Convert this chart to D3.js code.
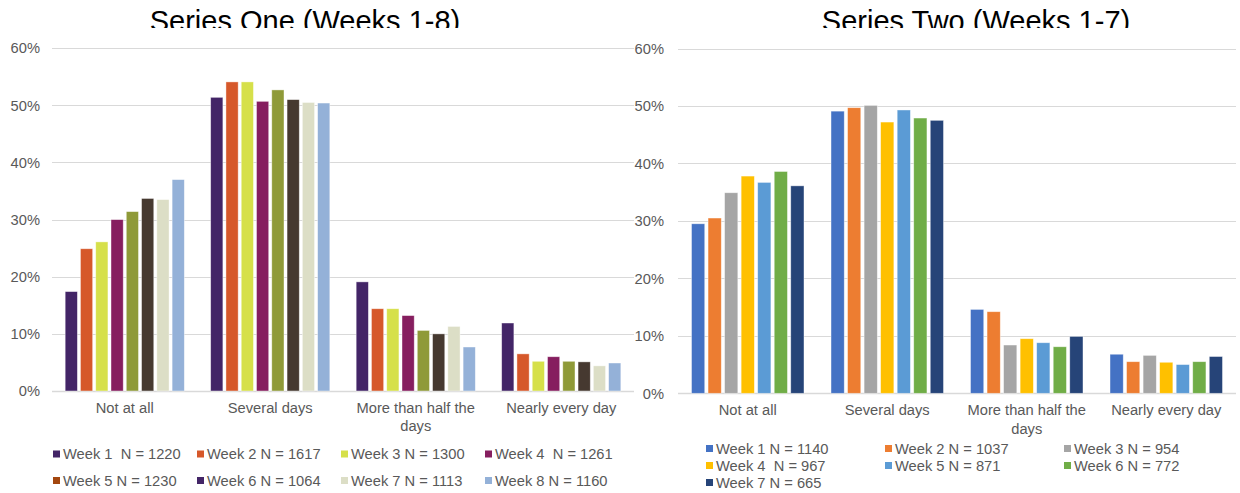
<!DOCTYPE html>
<html>
<head>
<meta charset="utf-8">
<script src="https://cdn.jsdelivr.net/npm/d3@7"></script>
<style>
  html, body { margin: 0; padding: 0; background: #fff; }
  svg { display: block; font-family: "Liberation Sans", Arial, sans-serif; }
  text { white-space: pre; }
</style>
</head>
<body>
<svg id="chart" width="1240" height="493"></svg>
<script>
// Response categories shared by both panels
const categories = ["Not at all", "Several days", "More than half the days", "Nearly every day"];
const yTicks = [0, 10, 20, 30, 40, 50, 60];

// Series One: percentage per category, one array per week
const oneWeeks = ["Week 1", "Week 2", "Week 3", "Week 4", "Week 5", "Week 6", "Week 7", "Week 8"];
const oneWeek1 = [17.4, 51.4, 19.1, 11.9];
const oneWeek2 = [24.9, 54.1, 14.4, 6.5];
const oneWeek3 = [26.1, 54.1, 14.4, 5.2];
const oneWeek4 = [30.0, 50.7, 13.2, 6.0];
const oneWeek5 = [31.4, 52.7, 10.6, 5.2];
const oneWeek6 = [33.7, 51.0, 10.0, 5.1];
const oneWeek7 = [33.5, 50.5, 11.3, 4.4];
const oneWeek8 = [37.0, 50.4, 7.7, 4.9];
const oneLegendLabels = ["Week 1  N = 1220", "Week 2 N = 1617", "Week 3 N = 1300", "Week 4  N = 1261",
                         "Week 5 N = 1230", "Week 6 N = 1064", "Week 7 N = 1113", "Week 8 N = 1160"];
const oneBarColors = ["#432567", "#d6582a", "#d6e04a", "#861e5f", "#8f9a38", "#463930", "#dcdec6", "#94b1d8"];
const oneLegendColors = ["#432567", "#d6582a", "#d6e04a", "#861e5f", "#a3470f", "#432567", "#dcdec6", "#94b1d8"];

// Series Two: percentage per category, one array per week
const twoWeeks = ["Week 1", "Week 2", "Week 3", "Week 4", "Week 5", "Week 6", "Week 7"];
const twoWeek1 = [29.5, 49.1, 14.6, 6.8];
const twoWeek2 = [30.5, 49.7, 14.2, 5.5];
const twoWeek3 = [34.9, 50.1, 8.4, 6.6];
const twoWeek4 = [37.8, 47.2, 9.5, 5.4];
const twoWeek5 = [36.7, 49.3, 8.8, 5.0];
const twoWeek6 = [38.6, 47.9, 8.1, 5.5];
const twoWeek7 = [36.1, 47.5, 9.9, 6.4];
const twoLegendLabels = ["Week 1 N = 1140", "Week 2 N = 1037", "Week 3 N = 954",
                         "Week 4  N = 967", "Week 5 N = 871", "Week 6 N = 772", "Week 7 N = 665"];
const twoColors = ["#4472c4", "#ed7d31", "#a5a5a5", "#ffc000", "#5b9bd5", "#70ad47", "#264478"];

const svg = d3.select("#chart");

// Break a category label onto extra lines when it is wider than the band
function wrapText(sel, width) {
  sel.each(function () {
    const t = d3.select(this);
    const words = t.text().split(/\s+/);
    t.text(null);
    let line = [], lineNo = 0;
    let tspan = t.append("tspan").attr("x", 0).attr("dy", "0.32em");
    for (const w of words) {
      line.push(w);
      tspan.text(line.join(" "));
      if (tspan.node().getComputedTextLength() > width && line.length > 1) {
        line.pop();
        tspan.text(line.join(" "));
        line = [w];
        lineNo++;
        tspan = t.append("tspan").attr("x", 0).attr("dy", "1.26em").text(w);
      }
    }
  });
}

function panel(opts) {
  const g = svg.append("g");
  const y = d3.scaleLinear().domain([0, 60]).range([opts.y0, opts.y60]);
  const x0 = d3.scaleBand().domain(categories).range([opts.xL, opts.xR])
    .paddingInner(opts.padIn).paddingOuter(opts.padOut);
  const x1 = d3.scaleBand().domain(opts.weeks).range([0, x0.bandwidth()])
    .paddingInner(0.2).paddingOuter(0.1);

  // title, clipped along its lower edge
  const clipId = "clip-" + opts.id;
  svg.append("defs").append("clipPath").attr("id", clipId)
    .append("rect").attr("x", opts.titleX - 250).attr("y", 0).attr("width", 500).attr("height", 28);
  g.append("text")
    .attr("clip-path", `url(#${clipId})`)
    .attr("x", opts.titleX).attr("y", 30.5)
    .attr("text-anchor", "middle")
    .attr("font-size", 29).attr("fill", "#000")
    .text(opts.title);

  // gridlines
  g.append("g").selectAll("line").data(yTicks).join("line")
    .attr("x1", opts.xL).attr("x2", opts.xR)
    .attr("y1", d => Math.round(y(d)) + 0.5).attr("y2", d => Math.round(y(d)) + 0.5)
    .attr("stroke", "#d9d9d9").attr("stroke-width", d => d === 0 ? 1.5 : 1);

  // y axis labels
  const yAxis = d3.axisLeft(y).tickValues(yTicks).tickSize(0).tickPadding(0)
    .tickFormat(d => d + "%");
  const ya = g.append("g").attr("transform", `translate(${opts.labelX},0)`).call(yAxis);
  ya.select(".domain").remove();
  ya.selectAll("text").attr("font-size", 14.7).attr("fill", "#595959")
    .attr("font-family", "Liberation Sans, Arial, sans-serif");

  // bars
  const groups = g.append("g").selectAll("g").data(categories).join("g")
    .attr("transform", c => `translate(${x0(c)},0)`);
  groups.selectAll("rect")
    .data((c, ci) => opts.weeks.map((w, wi) => ({ w, wi, v: opts.series[wi][ci] })))
    .join("rect")
    .attr("x", d => x1(d.w))
    .attr("width", x1.bandwidth())
    .attr("y", d => y(d.v))
    .attr("height", d => y(0) - y(d.v))
    .attr("fill", d => opts.barColors[d.wi])
    .attr("stroke", "#ffffff").attr("stroke-opacity", 0.55).attr("stroke-width", 0.75);

  // category labels
  const xAxis = d3.axisBottom(x0).tickSize(0).tickPadding(0);
  const xa = g.append("g").attr("transform", `translate(0,${opts.catY})`).call(xAxis);
  xa.select(".domain").remove();
  xa.selectAll("text").attr("font-size", 14.7).attr("fill", "#595959")
    .attr("font-family", "Liberation Sans, Arial, sans-serif")
    .attr("dy", null).attr("y", 0)
    .call(wrapText, x0.step() - 8);

  // legend
  const leg = g.append("g").selectAll("g").data(opts.legendLabels).join("g")
    .attr("transform", (d, i) => `translate(${opts.legX + (i % opts.legCols) * opts.legDX},${opts.legY + Math.floor(i / opts.legCols) * opts.legDY})`);
  leg.append("rect").attr("x", 0).attr("y", -3.5).attr("width", 7).attr("height", 7)
    .attr("fill", (d, i) => opts.legendColors[i]);
  leg.append("text").attr("x", 10).attr("y", 0).attr("dy", "0.35em")
    .attr("font-size", 14.7).attr("fill", "#595959").text(d => d);
}

panel({
  id: "one", title: "Series One (Weeks 1-8)", titleX: 305,
  weeks: oneWeeks,
  series: [oneWeek1, oneWeek2, oneWeek3, oneWeek4, oneWeek5, oneWeek6, oneWeek7, oneWeek8],
  barColors: oneBarColors, legendColors: oneLegendColors, legendLabels: oneLegendLabels,
  xL: 52, xR: 634, y0: 391, y60: 48.2, padIn: 0.16, padOut: 0.08,
  labelX: 40, catY: 408,
  legX: 53, legY: 454, legCols: 4, legDX: 144, legDY: 26.5
});

panel({
  id: "two", title: "Series Two (Weeks 1-7)", titleX: 976,
  weeks: twoWeeks,
  series: [twoWeek1, twoWeek2, twoWeek3, twoWeek4, twoWeek5, twoWeek6, twoWeek7],
  barColors: twoColors, legendColors: twoColors, legendLabels: twoLegendLabels,
  xL: 678, xR: 1236, y0: 393.3, y60: 48.5, padIn: 0.17, padOut: 0.085,
  labelX: 664, catY: 410.5,
  legX: 706, legY: 448.5, legCols: 3, legDX: 179, legDY: 17
});
</script>
</body>
</html>
